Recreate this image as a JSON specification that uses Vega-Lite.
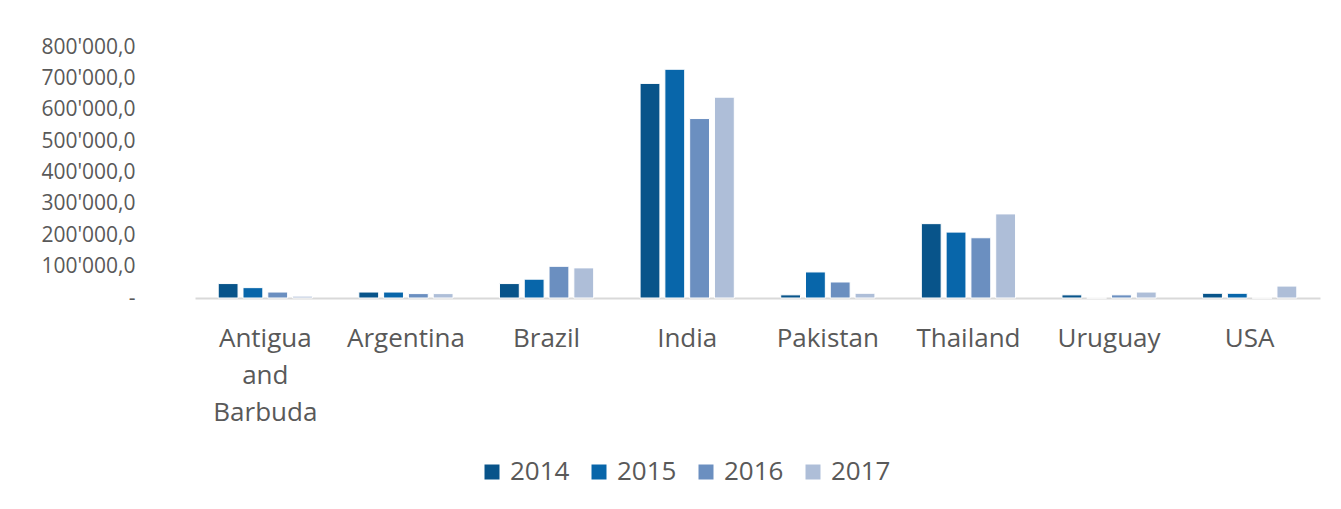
{
  "$schema": "https://vega.github.io/schema/vega-lite/v6.json",
  "autosize": {"type": "none"},
  "width": 1125,
  "height": 251,
  "padding": {"left": 195, "top": 47, "right": 21, "bottom": 211},
  "background": "white",
  "config": {
    "view": {"stroke": null},
    "font": "Open Sans",
    "axis": {"labelFont": "Open Sans", "labelColor": "#595959", "labelFontSize": 26},
    "legend": {"labelFont": "Open Sans", "labelColor": "#595959", "labelFontSize": 26}
  },
  "data": {
    "values": [
      {"country": "Antigua and Barbuda", "year": "2014", "value": 46000},
      {"country": "Antigua and Barbuda", "year": "2015", "value": 33000},
      {"country": "Antigua and Barbuda", "year": "2016", "value": 19000},
      {"country": "Antigua and Barbuda", "year": "2017", "value": 6000},
      {"country": "Argentina", "year": "2014", "value": 19000},
      {"country": "Argentina", "year": "2015", "value": 19000},
      {"country": "Argentina", "year": "2016", "value": 14000},
      {"country": "Argentina", "year": "2017", "value": 14000},
      {"country": "Brazil", "year": "2014", "value": 46000},
      {"country": "Brazil", "year": "2015", "value": 60000},
      {"country": "Brazil", "year": "2016", "value": 101000},
      {"country": "Brazil", "year": "2017", "value": 96000},
      {"country": "India", "year": "2014", "value": 684000},
      {"country": "India", "year": "2015", "value": 729000},
      {"country": "India", "year": "2016", "value": 572000},
      {"country": "India", "year": "2017", "value": 640000},
      {"country": "Pakistan", "year": "2014", "value": 10000},
      {"country": "Pakistan", "year": "2015", "value": 83000},
      {"country": "Pakistan", "year": "2016", "value": 51000},
      {"country": "Pakistan", "year": "2017", "value": 15000},
      {"country": "Thailand", "year": "2014", "value": 237000},
      {"country": "Thailand", "year": "2015", "value": 210000},
      {"country": "Thailand", "year": "2016", "value": 192000},
      {"country": "Thailand", "year": "2017", "value": 268000},
      {"country": "Uruguay", "year": "2014", "value": 10000},
      {"country": "Uruguay", "year": "2015", "value": 0},
      {"country": "Uruguay", "year": "2016", "value": 10000},
      {"country": "Uruguay", "year": "2017", "value": 19000},
      {"country": "USA", "year": "2014", "value": 15000},
      {"country": "USA", "year": "2015", "value": 15000},
      {"country": "USA", "year": "2016", "value": 0},
      {"country": "USA", "year": "2017", "value": 38000}
    ]
  },
  "mark": {"type": "bar", "stroke": "white", "strokeWidth": 1},
  "encoding": {
    "x": {
      "field": "country",
      "type": "nominal",
      "sort": null,
      "scale": {"paddingInner": 0.33, "paddingOuter": 0.165},
      "axis": {
        "title": null,
        "labelAngle": 0,
        "ticks": false,
        "domainColor": "#d9d9d9",
        "domainWidth": 2,
        "labelPadding": 40,
        "labelLineHeight": 37,
        "labelBaseline": "middle",
        "labelExpr": "datum.label == 'Antigua and Barbuda' ? ['Antigua', 'and', 'Barbuda'] : datum.label"
      }
    },
    "xOffset": {"field": "year", "type": "nominal", "scale": {"paddingInner": 0.2}},
    "y": {
      "field": "value",
      "type": "quantitative",
      "scale": {"domain": [0, 800000], "nice": false},
      "axis": {
        "title": null,
        "grid": false,
        "domain": false,
        "ticks": false,
        "labelOverlap": false,
        "labelFontSize": 21,
        "values": [0, 100000, 200000, 300000, 400000, 500000, 600000, 700000, 800000],
        "labelPadding": 60,
        "labelExpr": "datum.value == 0 ? '-' : replace(replace(format(datum.value, ',.1f'), ',', \"'\"), '.', ',')"
      }
    },
    "color": {
      "field": "year",
      "type": "nominal",
      "scale": {"range": ["#08548a", "#0866aa", "#6b8fc0", "#aebed8"]},
      "legend": {
        "title": null,
        "orient": "none",
        "direction": "horizontal",
        "legendX": 284,
        "legendY": 412,
        "symbolType": "square",
        "symbolSize": 225,
        "symbolStrokeWidth": 0,
        "labelOffset": 5,
        "columnPadding": 16
      }
    }
  }
}
